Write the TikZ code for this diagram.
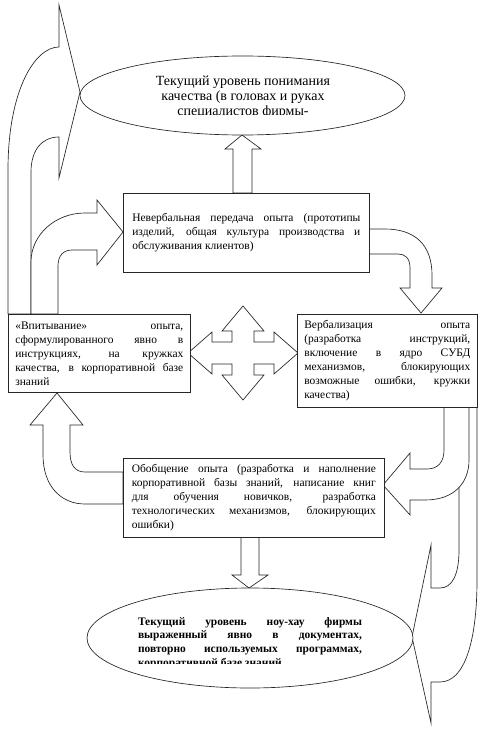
\documentclass[tikz,border=0pt]{standalone}
\usepackage{fontspec}
\setmainfont{Liberation Serif}
\usetikzlibrary{shapes.geometric}
\hyphenpenalty=10000
\exhyphenpenalty=10000
\begin{document}
\begin{tikzpicture}[x=0.75pt,y=-0.75pt,
  blockarrow/.style={draw=black!85, fill=white, line width=0.5pt, line join=miter},
  boxnode/.style={draw=black!85, fill=white, line width=0.5pt, rectangle, anchor=north west,
    inner ysep=1pt, align=justify, font=\fontsize{8.6}{10.5}\selectfont},
  ellnode/.style={draw=black!85, fill=white, line width=0.5pt, ellipse, inner sep=0pt}]
\useasboundingbox (0,0) rectangle (485,734);

% big left arrow (box3 -> top ellipse)
\path[blockarrow] (8,314) -- (8,170) .. controls (8,90) and (35,47) .. (59,47)
  -- (59,5) -- (80,92) -- (59,178) -- (59,137)
  .. controls (42,137) and (31,150) .. (31,172) -- (31,314) -- cycle;
% right arrow (box3 -> box1)
\path[blockarrow] (31,314) -- (31,262) .. controls (31,235) and (55,213) .. (85,213)
  -- (97,213) -- (97,200) -- (123,232) -- (97,265) -- (97,250) -- (72,250)
  .. controls (63,250) and (58,256) .. (58,266) -- (58,314) -- cycle;

% big right arrow (box2 -> bottom ellipse)
\path[blockarrow] (477,407) -- (477,580) .. controls (477,640) and (465,682) .. (440,682)
  -- (431,682) -- (431,723) -- (412,637) -- (431,545) -- (431,588) -- (440,588)
  .. controls (452,588) and (459,575) .. (459,550) -- (459,407) -- cycle;
% left arrow (box2 -> box4)
\path[blockarrow] (469,407) -- (469,460) .. controls (469,482) and (455,500) .. (425,500)
  -- (410,500) -- (410,515) -- (383,485) -- (410,453) -- (410,469) -- (427,469)
  .. controls (438,469) and (444,462) .. (444,450) -- (444,407) -- cycle;

% right curved arrow (box1 -> box2)
\path[blockarrow] (369,229) -- (385,229) .. controls (415,229) and (432,245) .. (432,275)
  -- (432,288) -- (442,288) -- (421,313) -- (400,288) -- (410,288) -- (410,268)
  .. controls (410,258) and (405,254) .. (398,254) -- (369,254) -- cycle;

% up arrow (box4 -> box3)
\path[blockarrow] (123,472) -- (85,472) .. controls (75,472) and (70,465) .. (70,452)
  -- (70,425) -- (83,425) -- (57,393) -- (30,425) -- (43,425) -- (43,455)
  .. controls (43,485) and (60,504) .. (85,504) -- (123,504) -- cycle;

% up arrow (box1 -> top ellipse)
\path[blockarrow] (233,193) -- (233,149) -- (225,149) -- (242,135) -- (261,149)
  -- (252,149) -- (252,193) -- cycle;
% down arrow (box4 -> bottom ellipse)
\path[blockarrow] (241,537) -- (241,575) -- (232,575) -- (249,588) -- (268,575)
  -- (259,575) -- (259,537) -- cycle;

% four-way arrow
\path[blockarrow] (243,306) -- (264,331) -- (254,331) -- (254,342) -- (274,342)
  -- (274,332) -- (298,353) -- (274,374) -- (274,364) -- (254,364) -- (254,375)
  -- (264,375) -- (243,400) -- (222,375) -- (232,375) -- (232,364) -- (212,364)
  -- (212,374) -- (188,353) -- (212,332) -- (212,342) -- (232,342) -- (232,331)
  -- (222,331) -- cycle;

% boxes
\node[boxnode, text width=171pt, inner xsep=6.75pt, minimum height=59.25pt] (b1) at (123,193)
  {Невербальная передача опыта (прототипы\linebreak изделий, общая культура производства и\linebreak обслуживания клиентов)};
\node[boxnode, text width=124.5pt, inner xsep=5.25pt, minimum height=69.75pt] (b2) at (297,314)
  {Вербализация опыта\linebreak (разработка инструкций,\linebreak включение в ядро СУБД\linebreak механизмов, блокирующих\linebreak возможные ошибки, кружки\linebreak качества)};
\node[boxnode, text width=126pt, inner xsep=5.25pt, minimum height=58.5pt] (b3) at (8,314)
  {«Впитывание» опыта,\linebreak сформулированного явно в\linebreak инструкциях, на кружках\linebreak качества, в корпоративной базе\linebreak знаний};
\node[boxnode, text width=183pt, inner xsep=6.375pt, minimum height=59.25pt] (b4) at (123,458)
  {Обобщение опыта (разработка и наполнение\linebreak корпоративной базы знаний, написание книг\linebreak для обучения новичков, разработка\linebreak технологических механизмов, блокирующих\linebreak ошибки)};

% ellipses
\node[ellnode, minimum width=243.75pt, minimum height=59.25pt] (e1) at (242.5,95.5) {};
\node[ellnode, minimum width=244.5pt, minimum height=75pt] (e2) at (250,638) {};

\begin{scope}
\clip (0,0) rectangle (485,115);
\node[font=\fontsize{10.5}{11.25}\selectfont, align=center, inner sep=0pt] (t1) at (243,97)
  {Текущий уровень понимания\\качества (в головах и руках\\специалистов фирмы-};
\end{scope}
\begin{scope}
\clip (0,590) rectangle (485,663);
\node[font=\bfseries\fontsize{8.6}{10.3}\selectfont, text width=168pt, align=justify, inner sep=0pt] (t2) at (250,643)
  {Текущий уровень ноу-хау фирмы\linebreak выраженный явно в документах,\linebreak повторно используемых программах,\linebreak корпоративной базе знаний};
\end{scope}
\end{tikzpicture}
\end{document}
